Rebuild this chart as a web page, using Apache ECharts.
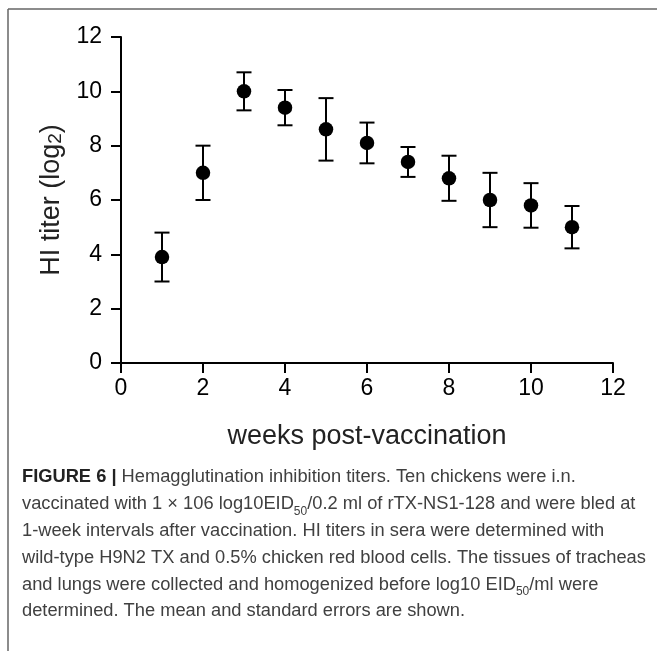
<!DOCTYPE html>
<html>
<head>
<meta charset="utf-8">
<script src="https://cdn.jsdelivr.net/npm/echarts@6/dist/echarts.min.js"></script>
<style>
html,body{margin:0;padding:0;background:#fff;}
#chart{width:657px;height:651px;}
</style>
</head>
<body>
<div id="chart"></div>
<script>
// ---- data ----
const weeks = [1, 2, 3, 4, 5, 6, 7, 8, 9, 10, 11];
const meanTiter = [3.9, 7.0, 10.0, 9.4, 8.6, 8.1, 7.4, 6.8, 6.0, 5.8, 5.0];
const stdError = [0.9, 1.0, 0.7, 0.65, 1.15, 0.75, 0.55, 0.83, 1.0, 0.82, 0.78];
const xTicks = [0, 2, 4, 6, 8, 10, 12];
const yTicks = [0, 2, 4, 6, 8, 10, 12];

const captionLines = [
  '{b|FIGURE 6 |} Hemagglutination inhibition titers. Ten chickens were i.n.',
  'vaccinated with 1 \u00d7 106 log10EID{sub|50}/0.2 ml of rTX-NS1-128 and were bled at',
  '1-week intervals after vaccination. HI titers in sera were determined with',
  'wild-type H9N2 TX and 0.5% chicken red blood cells. The tissues of tracheas',
  'and lungs were collected and homogenized before log10 EID{sub|50}/ml were',
  'determined. The mean and standard errors are shown.'
];

const points = weeks.map((w, i) => [w, meanTiter[i]]);
const bars = weeks.map((w, i) => [w, meanTiter[i] - stdError[i], meanTiter[i] + stdError[i]]);

const chart = echarts.init(document.getElementById('chart'), null, {renderer: 'canvas'});
const FONT = '"Liberation Sans", Arial, Helvetica, sans-serif';

chart.setOption({
  backgroundColor: '#fff',
  animation: false,
  textStyle: {fontFamily: FONT},
  graphic: [
    {type: 'line', shape: {x1: 8, y1: 9, x2: 657, y2: 9}, style: {stroke: '#666', lineWidth: 1.5}},
    {type: 'line', shape: {x1: 8, y1: 9, x2: 8, y2: 651}, style: {stroke: '#666', lineWidth: 1.5}}
  ],
  title: {
    text: captionLines.join('\n'),
    left: 22,
    top: 464,
    padding: 0,
    textStyle: {
      fontFamily: FONT,
      fontSize: 18.3,
      fontWeight: 'normal',
      color: '#404040',
      lineHeight: 26.8,
      rich: {
        b: {fontFamily: FONT, fontSize: 18.3, fontWeight: 'bold', color: '#222', lineHeight: 26.8},
        sub: {fontFamily: FONT, fontSize: 12, color: '#404040', lineHeight: 18, verticalAlign: 'bottom'}
      }
    }
  },
  grid: {left: 121, right: 44, top: 37, bottom: 288, containLabel: false},
  xAxis: {
    type: 'value',
    min: xTicks[0],
    max: xTicks[xTicks.length - 1],
    interval: 2,
    name: 'weeks post-vaccination',
    nameLocation: 'middle',
    nameGap: 60,
    nameTextStyle: {fontFamily: FONT, fontSize: 27, color: '#222'},
    axisLine: {show: true, onZero: false, lineStyle: {color: '#000', width: 2}},
    axisTick: {show: true, inside: false, length: 10, lineStyle: {color: '#000', width: 2}},
    axisLabel: {show: true, margin: 14, fontFamily: FONT, fontSize: 23, color: '#000',
      formatter: v => xTicks.includes(v) ? String(v) : ''},
    splitLine: {show: false}
  },
  yAxis: {
    type: 'value',
    min: yTicks[0],
    max: yTicks[yTicks.length - 1],
    interval: 2,
    name: 'HI titer (log{sub|2})',
    nameLocation: 'middle',
    nameGap: 56,
    nameRotate: 90,
    nameTextStyle: {fontFamily: FONT, fontSize: 27, color: '#222',
      rich: {sub: {fontFamily: FONT, fontSize: 19, color: '#222', verticalAlign: 'bottom', lineHeight: 24}}},
    axisLine: {show: true, onZero: false, lineStyle: {color: '#000', width: 2}},
    axisTick: {show: true, inside: false, length: 10, lineStyle: {color: '#000', width: 2}},
    axisLabel: {show: true, margin: 19, fontFamily: FONT, fontSize: 23, color: '#000',
      formatter: v => yTicks.includes(v) ? String(v) : ''},
    splitLine: {show: false}
  },
  series: [
    {
      type: 'custom',
      name: 'SE',
      data: bars,
      z: 2,
      renderItem: function (params, api) {
        const x = api.value(0);
        const lo = api.coord([x, api.value(1)]);
        const hi = api.coord([x, api.value(2)]);
        const hw = 7.5;
        const st = {stroke: '#000', lineWidth: 2, fill: null};
        return {
          type: 'group',
          children: [
            {type: 'line', shape: {x1: lo[0], y1: lo[1], x2: hi[0], y2: hi[1]}, style: st},
            {type: 'line', shape: {x1: hi[0] - hw, y1: hi[1], x2: hi[0] + hw, y2: hi[1]}, style: st},
            {type: 'line', shape: {x1: lo[0] - hw, y1: lo[1], x2: lo[0] + hw, y2: lo[1]}, style: st}
          ]
        };
      }
    },
    {
      type: 'scatter',
      name: 'HI titer',
      data: points,
      symbol: 'circle',
      symbolSize: 14.5,
      z: 3,
      itemStyle: {color: '#000', opacity: 1}
    }
  ]
});
</script>
</body>
</html>
